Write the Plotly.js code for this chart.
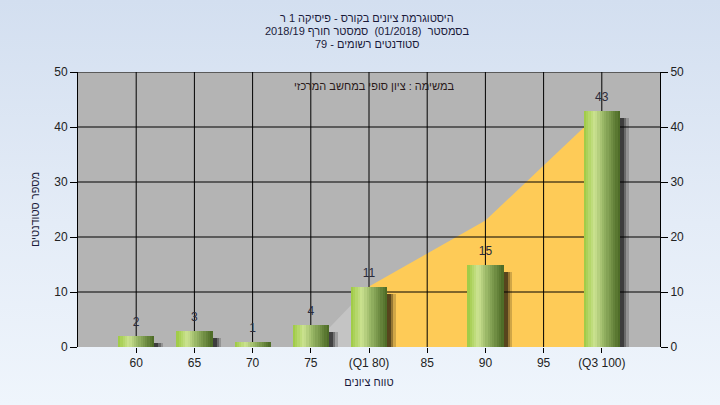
<!DOCTYPE html>
<html><head><meta charset="utf-8">
<script src="https://cdn.plot.ly/plotly-3.0.1.min.js"></script>
<style>
html,body{margin:0;padding:0;width:720px;height:405px;overflow:hidden;}
body{background:linear-gradient(to bottom,#d3dff0 0%,#e4ecf7 55%,#eff5fc 100%);}
#chart{width:720px;height:405px;}
</style></head><body>
<div id="chart"></div>
<script>
// ---- data ----
const grades = [60, 65, 70, 75, 80, 85, 90, 95, 100];
const tickLabels = ['60', '65', '70', '75', '(Q1 80)', '85', '90', '95', '(Q3 100)'];
const yTicks = [0, 10, 20, 30, 40, 50];
const barGrades = [60, 65, 70, 75, 80, 90, 100];
const barCounts = [2, 3, 1, 4, 11, 15, 43];
const outerX = [75, 80];
const outerY = [0, 11];
const iqrX = [80, 85, 90, 95, 100];
const iqrY = [11, 17, 23, 33, 43];
const titleLines = ['היסטוגרמת ציונים בקורס - פיסיקה 1 ר', 'בסמסטר  (01/2018)  סמסטר חורף 2018/19', 'סטודנטים רשומים - 79'];
const noteText = 'במשימה : ציון סופי במחשב המרכזי';
const xTitle = 'טווח ציונים';
const yTitle = 'מספר סטודנטים';

// ---- style ----
const FONT = 'Liberation Sans, Arial, DejaVu Sans, sans-serif';
const XR = [55, 105], YR = [0, 50];
const BW = 3.1;
const stops = [[0, [156, 201, 64]], [0.3, [204, 227, 146]], [0.55, [150, 180, 100]], [1, [74, 104, 36]]];
function colAt(t) {
  for (let i = 0; i < stops.length - 1; i++) {
    const a = stops[i], b = stops[i + 1];
    if (t >= a[0] && t <= b[0]) {
      const f = (t - a[0]) / (b[0] - a[0]);
      const c = a[1].map((v, k) => Math.round(v + (b[1][k] - v) * f));
      return 'rgb(' + c.join(',') + ')';
    }
  }
  return 'rgb(74,104,36)';
}

const traces = [];
traces.push({x: outerX, y: outerY, type: 'scatter', mode: 'none', fill: 'tozeroy', fillcolor: '#c4c4c4', hoverinfo: 'skip', showlegend: false});
traces.push({x: iqrX, y: iqrY, type: 'scatter', mode: 'none', fill: 'tozeroy', fillcolor: '#fecb57', hoverinfo: 'skip', showlegend: false});
const gx = [], gy = [];
grades.forEach(g => { gx.push(g, g, null); gy.push(YR[0], YR[1], null); });
yTicks.slice(1).forEach(v => { gx.push(XR[0], XR[1], null); gy.push(v, v, null); });
traces.push({x: gx, y: gy, type: 'scatter', mode: 'lines', line: {color: '#000', width: 1}, hoverinfo: 'skip', showlegend: false});
// shadows
[[0.75, 'rgba(0,0,0,0.18)'], [0.55, 'rgba(0,0,0,0.28)'], [0.35, 'rgba(0,0,0,0.42)']].forEach(s => {
  traces.push({x: barGrades, y: barCounts.map(v => v - 0.3), base: -1, type: 'bar', width: BW, offset: -BW / 2 + s[0], yaxis: 'y2',
    marker: {color: s[1], line: {width: 0}}, hoverinfo: 'skip', showlegend: false});
});
const N = 16;
for (let i = 0; i < N; i++) {
  traces.push({x: barGrades, y: barCounts, type: 'bar', width: BW / N + 0.02, offset: -BW / 2 + i * BW / N, yaxis: 'y2',
    marker: {color: colAt((i + 0.5) / N), line: {width: 0}}, hoverinfo: 'skip', showlegend: false});
}
traces.push({x: barGrades, y: barCounts, type: 'scatter', mode: 'markers+text', text: barCounts.map(String), textposition: 'top center',
  marker: {size: 9, opacity: 0}, yaxis: 'y2',
  textfont: {family: FONT, size: 12, color: '#2a2a3a'}, hoverinfo: 'skip', showlegend: false, cliponaxis: false});

const yax = {range: YR, tickvals: yTicks, showgrid: false, zeroline: false,
  ticks: 'outside', ticklen: 7, tickcolor: '#000', showline: true, linecolor: '#000', linewidth: 1,
  tickfont: {family: FONT, size: 12, color: '#222'}, fixedrange: true};

const annFont = {family: FONT, size: 11, color: '#1a1a3a'};
const layout = {
  width: 720, height: 405,
  margin: {l: 78, r: 60, t: 72, b: 58},
  paper_bgcolor: 'rgba(0,0,0,0)', plot_bgcolor: '#b4b4b4',
  barmode: 'overlay', bargap: 0,
  font: {family: FONT, size: 12, color: '#222'},
  xaxis: {range: XR, tickvals: grades, ticktext: tickLabels, showgrid: false,
    zeroline: false, ticks: 'outside', ticklen: 5, tickcolor: '#000', showline: false,
    tickfont: {family: FONT, size: 12, color: '#222'},
    title: {text: xTitle, font: annFont, standoff: 8}},
  yaxis: Object.assign({}, yax, {title: {text: yTitle, font: annFont, standoff: 12}}),
  yaxis2: Object.assign({}, yax, {overlaying: 'y', side: 'right'}),
  annotations: titleLines.map((t, i) => ({text: t, xref: 'paper', yref: 'paper', x: 0.497, y: 1, yshift: 54 - 13 * i,
      xanchor: 'center', yanchor: 'middle', showarrow: false, font: annFont})).concat([
    {text: noteText, xref: 'paper', yref: 'paper', x: 0.508, y: 1, yshift: -14, xanchor: 'center', yanchor: 'middle',
      showarrow: false, font: {family: FONT, size: 11, color: '#2a1a1a'}}
  ])
};
Plotly.newPlot('chart', traces, layout, {staticPlot: true, displayModeBar: false});
</script></body></html>
